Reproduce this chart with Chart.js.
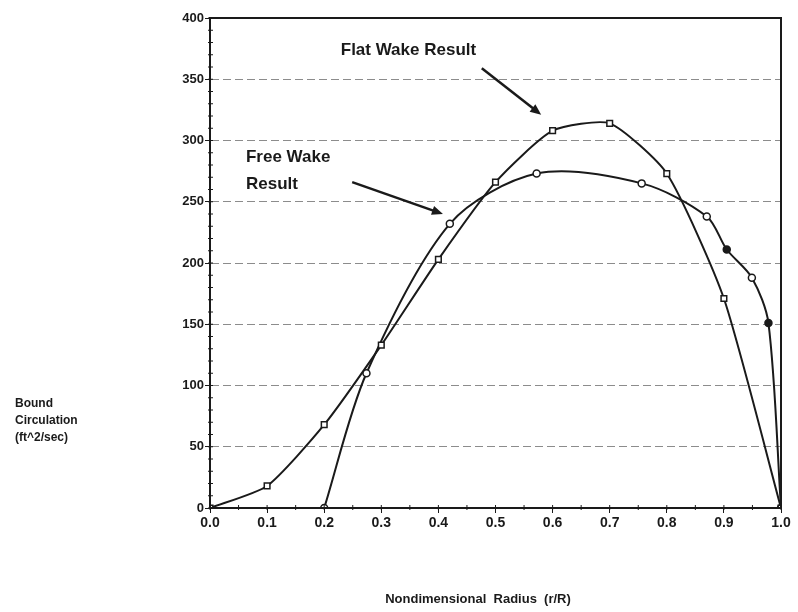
<!DOCTYPE html>
<html>
<head>
<meta charset="utf-8">
<script src="https://cdn.jsdelivr.net/npm/chart.js@4"></script>
<style>
  html, body { margin: 0; padding: 0; background: #fff; }
  #wrap { width: 798px; height: 612px; }
</style>
</head>
<body>
<div id="wrap"><canvas id="myChart" width="798" height="612"></canvas></div>
<script>
// flat wake: squares at every 0.1 of r/R
var flatR = [0.0, 0.1, 0.2, 0.3, 0.4, 0.5, 0.6, 0.7, 0.8, 0.9, 1.0];
var flatG = [0, 18, 68, 133, 203, 266, 308, 314, 273, 171, 0];
// free wake: circles
var freeR = [0.2, 0.274, 0.42, 0.572, 0.756, 0.87, 0.905, 0.949, 0.978, 1.0];
var freeG = [0, 110, 232, 273, 265, 238, 211, 188, 151, 0];
var freeFilled = [false, false, false, false, false, false, true, false, true, false];
var yTicks = [0, 50, 100, 150, 200, 250, 300, 350, 400];

var ink = "#1a1a1a";
var font = "'Liberation Sans', Arial, sans-serif";

function pts(xs, ys) {
  return xs.map(function (v, i) { return { x: v, y: ys[i] }; });
}

// box round the plot, minor ticks, text labels and arrows
var extras = {
  id: "extras",
  afterDraw: function (chart) {
    var ctx = chart.ctx, a = chart.chartArea;
    var x = chart.scales.x, y = chart.scales.y;
    ctx.save();
    ctx.strokeStyle = ink;
    ctx.lineWidth = 2;
    ctx.strokeRect(a.left, a.top, a.right - a.left, a.bottom - a.top);

    // minor ticks
    ctx.lineWidth = 1;
    ctx.beginPath();
    for (var v = 0; v <= 400; v += 10) {
      var py = y.getPixelForValue(v);
      ctx.moveTo(a.left - 2, py); ctx.lineTo(a.left + 3, py);
    }
    for (var r = 0; r <= 1.0001; r += 0.05) {
      var px = x.getPixelForValue(r);
      ctx.moveTo(px, a.bottom + 2); ctx.lineTo(px, a.bottom - 3);
    }
    ctx.stroke();

    ctx.fillStyle = ink;
    ctx.textBaseline = "middle";
    ctx.textAlign = "left";
    ctx.font = "bold 17px " + font;
    ctx.fillText("Flat Wake Result", x.getPixelForValue(0.229), y.getPixelForValue(374));
    ctx.fillText("Free Wake", x.getPixelForValue(0.063), y.getPixelForValue(286));
    ctx.fillText("Result", x.getPixelForValue(0.063), y.getPixelForValue(264));

    arrow(ctx, x.getPixelForValue(0.476), y.getPixelForValue(359),
               x.getPixelForValue(0.58), y.getPixelForValue(321));
    arrow(ctx, x.getPixelForValue(0.249), y.getPixelForValue(266),
               x.getPixelForValue(0.408), y.getPixelForValue(240));

    // y axis title, written flat like the original
    ctx.font = "bold 12px " + font;
    ctx.fillText("Bound", 15, 404);
    ctx.fillText("Circulation", 15, 421);
    ctx.fillText("(ft^2/sec)", 15, 438);

    // x axis title sits a bit left of the plot centre
    ctx.textAlign = "center";
    ctx.font = "bold 13px " + font;
    ctx.fillText("Nondimensional  Radius  (r/R)", 478, 599);
    ctx.restore();
  }
};

function arrow(ctx, x1, y1, x2, y2) {
  var ang = Math.atan2(y2 - y1, x2 - x1);
  ctx.lineWidth = 2.5;
  ctx.beginPath();
  ctx.moveTo(x1, y1);
  ctx.lineTo(x2 - 8 * Math.cos(ang), y2 - 8 * Math.sin(ang));
  ctx.stroke();
  ctx.beginPath();
  ctx.moveTo(x2, y2);
  ctx.lineTo(x2 - 12 * Math.cos(ang - 0.4), y2 - 12 * Math.sin(ang - 0.4));
  ctx.lineTo(x2 - 12 * Math.cos(ang + 0.4), y2 - 12 * Math.sin(ang + 0.4));
  ctx.closePath();
  ctx.fill();
}

new Chart("myChart", {
  type: "line",
  data: {
    datasets: [{
      label: "Flat Wake Result",
      data: pts(flatR, flatG),
      borderColor: ink,
      borderWidth: 2,
      tension: 0.2,
      pointStyle: "rect",
      pointRadius: 4,
      pointBorderWidth: 1.5,
      pointBorderColor: ink,
      pointBackgroundColor: "#fff"
    }, {
      label: "Free Wake Result",
      data: pts(freeR, freeG),
      borderColor: ink,
      borderWidth: 2,
      tension: 0.3,
      pointStyle: "circle",
      pointRadius: 3.5,
      pointBorderWidth: 1.5,
      pointBorderColor: ink,
      pointBackgroundColor: freeFilled.map(function (f) { return f ? ink : "#fff"; })
    }]
  },
  options: {
    responsive: false,
    animation: false,
    layout: { padding: { left: 0, right: 17, top: 18, bottom: 0 } },
    plugins: { legend: { display: false }, tooltip: { enabled: false } },
    scales: {
      x: {
        type: "linear",
        min: 0,
        max: 1,
        afterFit: function (s) { s.height = 104; },
        grid: { drawOnChartArea: false, tickLength: 5, color: ink },
        border: { color: ink, width: 2 },
        ticks: {
          stepSize: 0.1,
          padding: 2,
          color: ink,
          font: { family: font, size: 14, weight: "bold" },
          callback: function (v) { return v.toFixed(1); }
        }
      },
      y: {
        min: 0,
        max: 400,
        afterFit: function (s) { s.width = 210; },
        afterBuildTicks: function (s) { s.ticks = yTicks.map(function (v) { return { value: v }; }); },
        grid: {
          color: "#8c8c8c",
          tickLength: 5,
          tickColor: ink,
          tickBorderDash: [],
          drawTicks: true
        },
        border: { color: ink, width: 2, dash: [8, 4] },
        ticks: {
          padding: 1,
          color: ink,
          font: { family: font, size: 13, weight: "bold" }
        }
      }
    }
  },
  plugins: [extras]
});
</script>
</body>
</html>
